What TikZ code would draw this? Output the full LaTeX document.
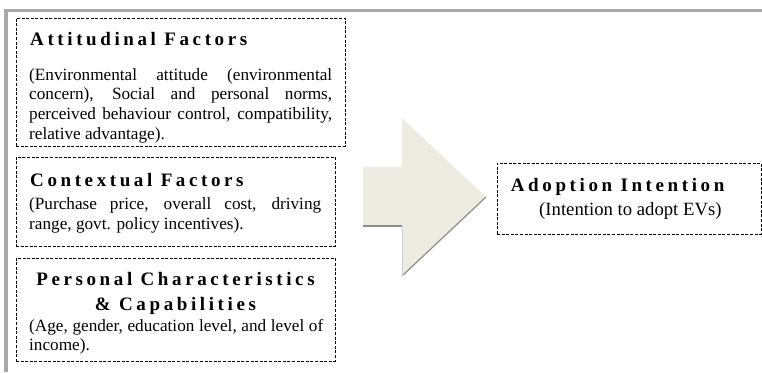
\documentclass[tikz,border=0pt]{standalone}
\usepackage{fontspec}
\setmainfont{Liberation Serif}
\newfontfamily\headfont[LetterSpace=19]{Liberation Serif}
\definecolor{arrowfill}{HTML}{EEECE1}
\definecolor{arrowedge}{HTML}{8C8C8C}
\definecolor{framegray}{HTML}{A8A8A8}
\tikzset{
  dashbox/.style={draw=black, line width=0.9pt, dash pattern=on 3pt off 1.6pt,
    inner sep=0pt, outer sep=0pt, anchor=north west},
  head/.style={font=\headfont\bfseries\fontsize{19}{25}\selectfont, inner sep=0pt, anchor=base west},
  body/.style={font=\fontsize{17.2}{19.7}\selectfont, inner sep=0pt, anchor=base west},
}
\begin{document}
\begin{tikzpicture}[x=1pt,y=-1pt]
\useasboundingbox (0,0) rectangle (762,372);
% page frame (top and left edges)
\fill[framegray] (4,9) rectangle (762,12.3);
\fill[framegray] (4,9) rectangle (8,372);

% factor boxes
\node[dashbox, minimum width=329pt, minimum height=128pt] (att) at (16,18) {};
\node[dashbox, minimum width=319pt, minimum height=89pt] (ctx) at (16,157) {};
\node[dashbox, minimum width=319pt, minimum height=103pt] (per) at (16,258) {};
\node[dashbox, minimum width=264pt, minimum height=71pt] (adp) at (497,163) {};

% attitudinal factors
\node[head] (attT) at (30,45.7) {Attitudinal Factors};
\node[body] (attB) at (29,80) {\parbox[t]{303pt}{\hyphenpenalty=10000\noindent
  (Environmental attitude (environmental\linebreak
  concern), Social and personal norms,\linebreak
  perceived behaviour control, compatibility,\linebreak
  relative advantage).}};

% contextual factors
\node[head] (ctxT) at (30,186) {Contextual Factors};
\node[body] (ctxB) at (29,209.5) {\parbox[t]{292pt}{\hyphenpenalty=10000\noindent
  (Purchase price, overall cost, driving\linebreak
  range, govt. policy incentives).}};

% personal characteristics
\node[head, anchor=base] (perT) at (175.5,285) {Personal Characteristics};
\node[head, anchor=base] (perT2) at (175.5,310) {\& Capabilities};
\node[body] (perB) at (29,331) {\parbox[t]{294pt}{\hyphenpenalty=10000\noindent
  (Age, gender, education level, and level of\linebreak
  income).}};

% adoption intention
\node[head] (adpT) at (510.7,191.3) {Adoption Intention};
\node[body, font=\fontsize{18.7}{22}\selectfont] (adpB) at (539,215.3) {(Intention to adopt EVs)};

% block arrow with its shaded lower edge
\fill[arrowfill] (363,167) -- (402,167) -- (402,118) -- (486,197)
  -- (402,276) -- (402,226) -- (363,226) -- cycle;
\draw[arrowedge, line width=1.2pt] (363,226) -- (402,226);
\draw[arrowedge, line width=1.2pt] (402,276) -- (486,197);
\draw[arrowedge!40, line width=0.5pt] (402,226) -- (402,276);
\end{tikzpicture}
\end{document}
